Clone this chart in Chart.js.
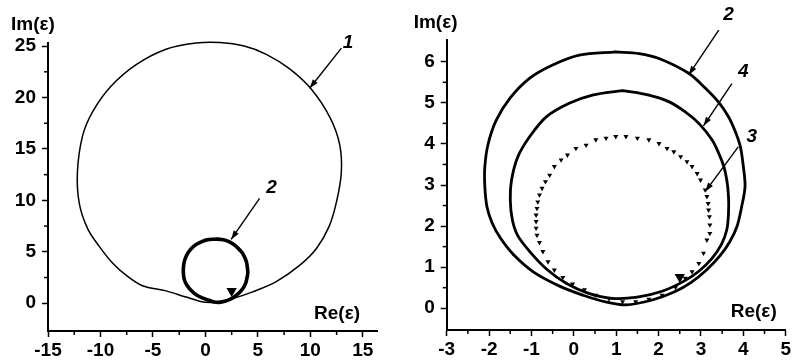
<!DOCTYPE html>
<html lang="en">
<head>
<meta charset="UTF-8">
<title>Im(ε) vs Re(ε)</title>
<script src="https://cdn.jsdelivr.net/npm/chart.js@4.4.0/dist/chart.umd.min.js"></script>
<style>
  html, body { margin: 0; padding: 0; background: #fff; }
  .wrap { position: relative; width: 793px; height: 362px; }
  #leftChart { position: absolute; left: 0; top: 0; }
  #rightChart { position: absolute; left: 400px; top: 0; }
</style>
</head>
<body>
<div class="wrap">
  <canvas id="leftChart" width="400" height="362"></canvas>
  <canvas id="rightChart" width="393" height="362"></canvas>
</div>
<script>
// --- left panel: curve 1 (big loop) ---
const curve1X = [0.9, 2.6, 4.5, 6.75, 9.0, 10.6, 11.8, 12.5, 12.95, 12.8, 11.9, 10.1, 8.0, 5.8, 3.7, 1.4, -0.9, -3.75, -6.6, -9.0, -10.7, -11.7, -12.2, -12.0, -11.2, -10.1, -8.85, -7.6, -6.0, -3.75, -1.85, -0.35, 0.9];
const curve1Y = [0.05, 0.45, 1.1, 2.1, 3.7, 5.35, 7.5, 9.9, 12.7, 15.4, 18.0, 20.8, 22.8, 24.2, 25.0, 25.35, 25.3, 24.7, 23.2, 21.1, 18.7, 16.3, 12.7, 9.6, 7.2, 5.5, 3.9, 2.75, 1.7, 1.2, 0.6, 0.15, 0.05];

// curve 2 (same loop on both panels)
const curve2X = [0.99, 1.54, 2.01, 2.71, 3.10, 3.42, 3.65, 3.81, 3.93, 4.00, 4.04, 3.96, 3.85, 3.68, 3.45, 3.13, 2.77, 2.38, 1.85, 1.23, 0.68, 0.21, -0.30, -0.95, -1.42, -1.74, -1.93, -2.05, -2.10, -2.10, -2.02, -1.83, -1.51, -1.04, -0.50, 0.13, 0.99];
const curve2Y = [6.24, 6.20, 6.08, 5.72, 5.36, 5.01, 4.66, 4.30, 3.93, 3.45, 2.96, 2.47, 1.99, 1.62, 1.28, 0.93, 0.63, 0.40, 0.20, 0.08, 0.17, 0.32, 0.52, 0.88, 1.30, 1.72, 2.08, 2.47, 2.96, 3.45, 4.01, 4.58, 5.11, 5.60, 5.92, 6.16, 6.24];

// curve 4
const curve4X = [1.15, 1.77, 2.24, 2.63, 2.95, 3.26, 3.42, 3.54, 3.61, 3.65, 3.65, 3.61, 3.48, 3.25, 2.95, 2.60, 2.10, 1.50, 0.90, 0.35, -0.17, -0.64, -1.04, -1.32, -1.45, -1.50, -1.47, -1.32, -1.04, -0.65, -0.11, 0.44, 1.15];
const curve4Y = [5.30, 5.19, 5.03, 4.78, 4.50, 4.10, 3.77, 3.45, 3.12, 2.72, 2.31, 1.91, 1.55, 1.20, 0.90, 0.66, 0.42, 0.27, 0.24, 0.36, 0.60, 0.95, 1.38, 1.76, 2.15, 2.64, 3.12, 3.69, 4.18, 4.66, 4.99, 5.19, 5.30];

// curve 3 (dotted, individual points)
const curve3X = [1.23, 1.50, 1.77, 2.01, 2.20, 2.36, 2.52, 2.67, 2.79, 2.91, 2.99, 3.10, 3.14, 3.17, 3.18, 3.20, 3.21, 3.21, 3.14, 3.06, 2.95, 2.79, 2.63, 2.40, 2.08, 1.77, 1.46, 1.15, 0.83, 0.52, 0.25, -0.03, -0.26, -0.46, -0.61, -0.73, -0.81, -0.87, -0.89, -0.89, -0.89, -0.87, -0.85, -0.81, -0.75, -0.67, -0.57, -0.46, -0.30, -0.15, 0.05, 0.29, 0.52, 0.76, 0.99];
const curve3Y = [4.18, 4.14, 4.10, 4.01, 3.89, 3.81, 3.69, 3.57, 3.45, 3.28, 3.12, 2.88, 2.72, 2.55, 2.39, 2.23, 2.03, 1.82, 1.66, 1.34, 1.09, 0.89, 0.73, 0.51, 0.32, 0.22, 0.16, 0.16, 0.23, 0.32, 0.45, 0.59, 0.75, 0.93, 1.13, 1.38, 1.60, 1.78, 1.95, 2.11, 2.27, 2.43, 2.59, 2.76, 2.92, 3.08, 3.24, 3.45, 3.61, 3.73, 3.89, 3.97, 4.10, 4.14, 4.18];

// direction markers
const leftMark = { x: 2.5, y: 1.2 };
const rightMark = { x: 2.5, y: 0.76 };

// ticks
const leftXTicks = [-15, -10, -5, 0, 5, 10, 15];
const leftXMinor = [-12.5, -7.5, -2.5, 2.5, 7.5, 12.5];
const leftYTicks = [0, 5, 10, 15, 20, 25];
const leftYMinor = [2.5, 7.5, 12.5, 17.5, 22.5];
const rightXTicks = [-3, -2, -1, 0, 1, 2, 3, 4, 5];
const rightXMinor = [-2.5, -1.5, -0.5, 0.5, 1.5, 2.5, 3.5, 4.5];
const rightYTicks = [0, 1, 2, 3, 4, 5, 6];
const rightYMinor = [0.5, 1.5, 2.5, 3.5, 4.5, 5.5];

// curve labels with arrows: [label, labelX, labelY, fromX, fromY, toX, toY]
const leftNotes = [
  ['1', 13.6, 25.3, 12.96, 24.8, 9.93, 20.9],
  ['2', 6.3, 11.2, 5.16, 10.2, 2.45, 6.2]
];
const rightNotes = [
  ['2', 3.65, 7.14, 3.42, 6.77, 2.71, 5.68],
  ['4', 4.0, 5.76, 3.73, 5.47, 3.06, 4.44],
  ['3', 4.2, 4.18, 3.88, 3.93, 3.1, 2.84]
];

const FONT = '"Liberation Sans", Arial, sans-serif';
const pts = (xs, ys) => xs.map((x, i) => ({ x: x, y: ys[i] }));

function arrow(ctx, x1, y1, x2, y2) {
  ctx.beginPath(); ctx.moveTo(x1, y1); ctx.lineTo(x2, y2); ctx.stroke();
  const a = Math.atan2(y2 - y1, x2 - x1), L = 9, W = 3;
  ctx.beginPath();
  ctx.moveTo(x2, y2);
  ctx.lineTo(x2 - L * Math.cos(a) + W * Math.sin(a), y2 - L * Math.sin(a) - W * Math.cos(a));
  ctx.lineTo(x2 - L * Math.cos(a) - W * Math.sin(a), y2 - L * Math.sin(a) + W * Math.cos(a));
  ctx.closePath(); ctx.fill();
}

const decor = {
  id: 'decor',
  afterDraw(chart, args, o) {
    const ctx = chart.ctx, xs = chart.scales.x, ys = chart.scales.y, a = chart.chartArea;
    ctx.save();
    ctx.strokeStyle = '#000'; ctx.fillStyle = '#000'; ctx.lineWidth = 1.5;
    o.minorX.forEach(v => {
      const px = xs.getPixelForValue(v);
      ctx.beginPath(); ctx.moveTo(px, a.bottom); ctx.lineTo(px, a.bottom + 4); ctx.stroke();
    });
    o.minorY.forEach(v => {
      const py = ys.getPixelForValue(v);
      ctx.beginPath(); ctx.moveTo(a.left, py); ctx.lineTo(a.left - 4, py); ctx.stroke();
    });
    ctx.font = 'bold 19px ' + FONT;
    ctx.textBaseline = 'middle';
    ctx.textAlign = 'left';
    ctx.fillText('Im(ε)', a.left + o.im[0], a.top + o.im[1]);
    ctx.textAlign = 'right';
    ctx.fillText('Re(ε)', a.right + o.re[0], a.bottom + o.re[1]);
    ctx.lineWidth = 1.4;
    ctx.textAlign = 'center';
    ctx.font = 'italic bold 19px ' + FONT;
    o.notes.forEach(n => {
      ctx.fillText(n[0], xs.getPixelForValue(n[1]), ys.getPixelForValue(n[2]));
      arrow(ctx, xs.getPixelForValue(n[3]), ys.getPixelForValue(n[4]),
        xs.getPixelForValue(n[5]), ys.getPixelForValue(n[6]));
    });
    ctx.restore();
  }
};

function axis(min, max, ticks, isX, size, pad) {
  return {
    type: 'linear', min: min, max: max,
    afterBuildTicks: s => { s.ticks = ticks.map(v => ({ value: v })); },
    afterFit: s => { if (isX) s.height = size; else s.width = size; },
    grid: { drawOnChartArea: false, drawTicks: true, tickLength: 6, tickWidth: 1.5, tickColor: '#000' },
    border: { display: true, color: '#000', width: 2 },
    ticks: { color: '#000', font: { family: FONT, size: 19, weight: 'bold' }, padding: pad, maxRotation: 0, autoSkip: false }
  };
}

function lineSet(xs, ys, width, pr) {
  return {
    data: pts(xs, ys), showLine: true, tension: 0.33, borderColor: '#000', borderWidth: width,
    pointStyle: 'triangle', pointRadius: pr, pointBackgroundColor: '#000', pointBorderWidth: 0, clip: false
  };
}

function markSet(p) {
  return {
    data: [p], showLine: false, pointStyle: 'triangle', rotation: 180, pointRadius: 6,
    pointBackgroundColor: '#000', pointBorderWidth: 0, clip: false
  };
}

new Chart(document.getElementById('leftChart'), {
  type: 'scatter',
  data: {
    datasets: [
      lineSet(curve1X, curve1Y, 1.5, 0),
      lineSet(curve2X, curve2Y, 3.6, 0),
      markSet(leftMark)
    ]
  },
  options: {
    responsive: false, animation: false,
    elements: { line: { capBezierPoints: false } },
    layout: { padding: { left: 8, right: 23, top: 43, bottom: 0 } },
    scales: {
      x: axis(-15, 16.35, leftXTicks, true, 31, 2),
      y: axis(-2.7, 25.3, leftYTicks, false, 40, 6)
    },
    plugins: {
      legend: { display: false }, tooltip: { enabled: false },
      decor: { minorX: leftXMinor, minorY: leftYMinor, notes: leftNotes, im: [-37, -18], re: [-17, -17] }
    }
  },
  plugins: [decor]
});

new Chart(document.getElementById('rightChart'), {
  type: 'scatter',
  data: {
    datasets: [
      lineSet(curve2X, curve2Y, 2.8, 1.6),
      lineSet(curve4X, curve4Y, 2.8, 1.6),
      {
        data: pts(curve3X, curve3Y), showLine: false, pointStyle: 'triangle', rotation: 180,
        pointRadius: 2.9, pointBackgroundColor: '#000', pointBorderWidth: 0, clip: false
      },
      markSet(rightMark)
    ]
  },
  options: {
    responsive: false, animation: false,
    elements: { line: { capBezierPoints: false } },
    layout: { padding: { left: 6.7, right: 5.7, top: 40, bottom: 0 } },
    scales: {
      x: axis(-3, 5, rightXTicks, true, 32, 2),
      y: axis(-0.53, 6.53, rightYTicks, false, 40, 6)
    },
    plugins: {
      legend: { display: false }, tooltip: { enabled: false },
      decor: { minorX: rightXMinor, minorY: rightYMinor, notes: rightNotes, im: [-33, -17], re: [-9, -18] }
    }
  },
  plugins: [decor]
});
</script>
</body>
</html>
